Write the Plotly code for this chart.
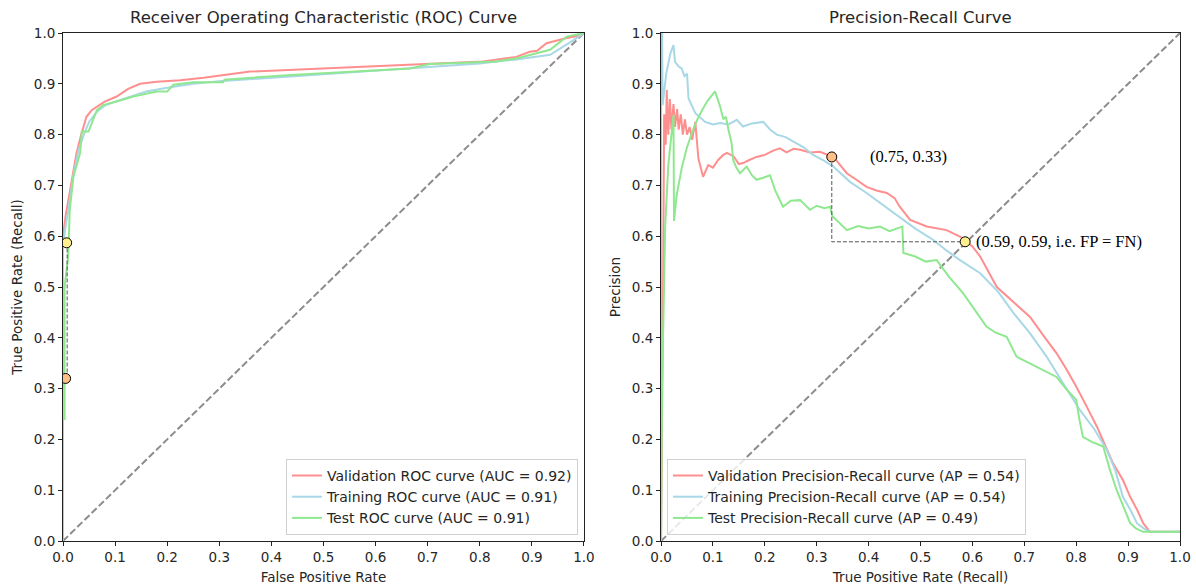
import plotly.graph_objects as go

# ---------------- ROC data ----------------
roc_val_fpr = [0, 0, 0.005, 0.013, 0.02, 0.026, 0.035, 0.045, 0.055, 0.065, 0.08, 0.103, 0.125, 0.148, 0.18, 0.225,
               0.27, 0.359, 0.45, 0.576, 0.666, 0.72, 0.806, 0.87, 0.896, 0.91, 0.928, 0.967, 0.992, 1.0]
roc_val_tpr = [0, 0.6, 0.64, 0.685, 0.73, 0.764, 0.80, 0.835, 0.848, 0.855, 0.865, 0.875, 0.89, 0.90, 0.904, 0.907,
               0.912, 0.924, 0.928, 0.934, 0.937, 0.94, 0.944, 0.953, 0.963, 0.965, 0.98, 0.99, 0.995, 1.0]

roc_trn_fpr = [0, 0, 0.005, 0.01, 0.02, 0.03, 0.04, 0.05, 0.065, 0.08, 0.1, 0.13, 0.16, 0.2, 0.25, 0.3, 0.4, 0.5,
               0.6, 0.7, 0.8, 0.87, 0.935, 0.98, 1.0]
roc_trn_tpr = [0, 0.58, 0.62, 0.65, 0.72, 0.77, 0.80, 0.825, 0.845, 0.857, 0.865, 0.875, 0.885, 0.892, 0.9, 0.905,
               0.912, 0.918, 0.925, 0.932, 0.94, 0.948, 0.957, 0.986, 1.0]

roc_tst_fpr = [0, 0, 0.003, 0.003, 0.01, 0.013, 0.02, 0.033, 0.036, 0.049, 0.065, 0.077, 0.103, 0.135, 0.18, 0.2,
               0.212, 0.25, 0.307, 0.31, 0.43, 0.55, 0.666, 0.704, 0.806, 0.832, 0.87, 0.935, 0.955, 0.967, 1.0]
roc_tst_tpr = [0, 0.24, 0.24, 0.5, 0.56, 0.652, 0.717, 0.764, 0.806, 0.806, 0.848, 0.858, 0.865, 0.875, 0.885, 0.885,
               0.898, 0.903, 0.903, 0.908, 0.917, 0.924, 0.93, 0.939, 0.944, 0.944, 0.95, 0.967, 0.983, 0.993, 1.0]

# ---------------- Precision-Recall data ----------------
pr_val_rec = [0, 0, 0.004, 0.006, 0.009, 0.011, 0.014, 0.017, 0.02, 0.024, 0.027, 0.031, 0.034, 0.038, 0.042,
              0.046, 0.05, 0.055, 0.06, 0.066, 0.072, 0.081, 0.091, 0.1, 0.11, 0.12, 0.127, 0.14, 0.15, 0.158, 0.17,
              0.184, 0.2, 0.215, 0.229, 0.242, 0.255, 0.268, 0.287, 0.306, 0.332, 0.345, 0.358, 0.375, 0.396, 0.415,
              0.435, 0.45, 0.46, 0.48, 0.512, 0.55, 0.576, 0.6, 0.615, 0.647, 0.68, 0.711, 0.74, 0.762, 0.78, 0.80,
              0.82, 0.84, 0.855, 0.871, 0.89, 0.904, 0.918, 0.929, 0.942, 0.96, 1.0]
pr_val_prec = [1.0, 0.0, 0.5, 0.84, 0.78, 0.888, 0.80, 0.87, 0.81, 0.86, 0.815, 0.85, 0.81, 0.84, 0.80,
               0.83, 0.80, 0.815, 0.79, 0.825, 0.753, 0.717, 0.74, 0.735, 0.75, 0.76, 0.764, 0.757, 0.742, 0.744, 0.75,
               0.756, 0.76, 0.768, 0.773, 0.765, 0.772, 0.77, 0.765, 0.766, 0.756, 0.74, 0.724, 0.712, 0.697, 0.69,
               0.685, 0.675, 0.658, 0.632, 0.619, 0.612, 0.599, 0.58, 0.56, 0.50, 0.47, 0.441, 0.40, 0.37, 0.34, 0.304,
               0.265, 0.225, 0.19, 0.153, 0.12, 0.087, 0.06, 0.035, 0.018, 0.018, 0.018]

pr_trn_rec = [0, 0.002, 0.003, 0.01, 0.018, 0.024, 0.027, 0.034, 0.04, 0.045, 0.05, 0.053, 0.066, 0.085, 0.1,
              0.114, 0.13, 0.146, 0.158, 0.175, 0.197, 0.21, 0.223, 0.24, 0.255, 0.275, 0.293, 0.312, 0.332, 0.348,
              0.364, 0.396, 0.43, 0.46, 0.49, 0.524, 0.55, 0.576, 0.615, 0.65, 0.679, 0.71, 0.743, 0.775, 0.807,
              0.835, 0.859, 0.875, 0.89, 0.905, 0.917, 0.93, 0.942, 0.96, 1.0]
pr_trn_prec = [1.0, 1.0, 0.858, 0.92, 0.96, 0.976, 0.943, 0.934, 0.93, 0.915, 0.92, 0.871, 0.842, 0.825, 0.82,
               0.823, 0.82, 0.829, 0.816, 0.822, 0.825, 0.81, 0.80, 0.795, 0.786, 0.775, 0.76, 0.75, 0.737, 0.722,
               0.707, 0.685, 0.66, 0.638, 0.615, 0.593, 0.572, 0.553, 0.527, 0.49, 0.449, 0.41, 0.363, 0.31, 0.258,
               0.22, 0.179, 0.14, 0.087, 0.06, 0.035, 0.025, 0.018, 0.018, 0.018]

pr_tst_rec = [0, 0, 0.002, 0.005, 0.008, 0.014, 0.024, 0.025, 0.03, 0.04, 0.05, 0.06, 0.07, 0.08, 0.09, 0.104,
              0.114, 0.12, 0.125, 0.13, 0.136, 0.139, 0.145, 0.152, 0.165, 0.175, 0.184, 0.197, 0.21, 0.22, 0.235,
              0.25, 0.268, 0.287, 0.3, 0.315, 0.326, 0.33, 0.345, 0.358, 0.38, 0.4, 0.422, 0.44, 0.465, 0.467, 0.49,
              0.51, 0.531, 0.555, 0.582, 0.605, 0.627, 0.645, 0.666, 0.685, 0.71, 0.736, 0.762, 0.78, 0.80, 0.806,
              0.813, 0.83, 0.852, 0.865, 0.878, 0.89, 0.904, 0.915, 0.929, 0.95, 1.0]
pr_tst_prec = [1.0, 0.0, 0.3, 0.5, 0.62, 0.74, 0.839, 0.63, 0.68, 0.735, 0.775, 0.805, 0.83, 0.85, 0.867, 0.885,
               0.855, 0.83, 0.835, 0.809, 0.783, 0.75, 0.735, 0.724, 0.737, 0.72, 0.711, 0.715, 0.72, 0.69, 0.658,
               0.67, 0.671, 0.652, 0.66, 0.655, 0.658, 0.64, 0.625, 0.612, 0.62, 0.615, 0.619, 0.61, 0.619, 0.567,
               0.56, 0.55, 0.553, 0.52, 0.488, 0.455, 0.422, 0.41, 0.402, 0.363, 0.35, 0.337, 0.323, 0.30, 0.278,
               0.24, 0.205, 0.195, 0.186, 0.14, 0.10, 0.07, 0.035, 0.025, 0.018, 0.018, 0.018]

roc_labels = ["Validation ROC curve (AUC = 0.92)", "Training ROC curve (AUC = 0.91)", "Test ROC curve (AUC = 0.91)"]
pr_labels = ["Validation Precision-Recall curve (AP = 0.54)", "Training Precision-Recall curve (AP = 0.54)",
             "Test Precision-Recall curve (AP = 0.49)"]

# threshold markers
roc_pts_x = [0.005, 0.007]
roc_pts_y = [0.32, 0.587]
pr_pts_x = [0.329, 0.586]
pr_pts_y = [0.756, 0.589]
pr_pt_texts = ["(0.75, 0.33)", "(0.59, 0.59, i.e. FP = FN)"]

RED = "#ff8f8f"
BLUE = "#a8d8e6"
GREEN = "#8fe88f"
colors = [RED, BLUE, GREEN]
pt_colors = ["#ffbf87", "#fff08f"]

fig = go.Figure()

roc_series = [(roc_val_fpr, roc_val_tpr), (roc_trn_fpr, roc_trn_tpr), (roc_tst_fpr, roc_tst_tpr)]
pr_series = [(pr_val_rec, pr_val_prec), (pr_trn_rec, pr_trn_prec), (pr_tst_rec, pr_tst_prec)]

# diagonals
for xa, ya in [("x", "y"), ("x2", "y2")]:
    fig.add_trace(go.Scatter(x=[0, 1], y=[0, 1], mode="lines", xaxis=xa, yaxis=ya, showlegend=False,
                             line=dict(color="#8c8c8c", width=2, dash="7px,3px"), hoverinfo="skip"))

for (xs, ys), lab, c in zip(roc_series, roc_labels, colors):
    fig.add_trace(go.Scatter(x=xs, y=ys, mode="lines", name=lab, xaxis="x", yaxis="y",
                             line=dict(color=c, width=2), legend="legend"))
for (xs, ys), lab, c in zip(pr_series, pr_labels, colors):
    fig.add_trace(go.Scatter(x=xs, y=ys, mode="lines", name=lab, xaxis="x2", yaxis="y2",
                             line=dict(color=c, width=2), legend="legend2"))

# dashed helper lines
fig.add_trace(go.Scatter(x=[0.008, 0.008], y=[roc_pts_y[0], roc_pts_y[1]], mode="lines", xaxis="x", yaxis="y",
                         showlegend=False, line=dict(color="#555555", width=1, dash="4px,2px")))
fig.add_trace(go.Scatter(x=[pr_pts_x[0], pr_pts_x[0], pr_pts_x[1]], y=[pr_pts_y[0], pr_pts_y[1], pr_pts_y[1]],
                         mode="lines", xaxis="x2", yaxis="y2", showlegend=False,
                         line=dict(color="#555555", width=1, dash="4px,2px")))

# markers
fig.add_trace(go.Scatter(x=roc_pts_x, y=roc_pts_y, mode="markers", xaxis="x", yaxis="y", showlegend=False,
                         marker=dict(size=10, color=pt_colors, line=dict(color="black", width=1))))
fig.add_trace(go.Scatter(x=pr_pts_x, y=pr_pts_y, mode="markers", xaxis="x2", yaxis="y2", showlegend=False,
                         marker=dict(size=10, color=pt_colors, line=dict(color="black", width=1))))

ticks = [i / 10 for i in range(11)]
axis_common = dict(range=[0, 1], tickvals=ticks, ticktext=[f"{t:.1f}" for t in ticks], showgrid=False,
                   zeroline=False, showline=True, linecolor="#222", linewidth=1, mirror=True, ticks="outside",
                   ticklen=4, tickcolor="#222", tickfont=dict(family="DejaVu Sans", size=13.5, color="#262626"),
                   layer="below traces", automargin=False)
title_font = dict(family="DejaVu Sans", size=13.5, color="#262626")
legend_font = dict(family="DejaVu Sans", size=14, color="#262626")

fig.update_layout(
    width=1196, height=586,
    margin=dict(l=63, r=16, t=33, b=45),
    paper_bgcolor="white", plot_bgcolor="white",
    xaxis=dict(domain=[0, 0.4664], anchor="y", title=dict(text="False Positive Rate", font=title_font, standoff=8),
               **axis_common),
    yaxis=dict(domain=[0, 1], anchor="x",
               title=dict(text="True Positive Rate (Recall)", font=title_font, standoff=8), **axis_common),
    xaxis2=dict(domain=[0.5354, 1], anchor="y2",
                title=dict(text="True Positive Rate (Recall)", font=title_font, standoff=8), **axis_common),
    yaxis2=dict(domain=[0, 1], anchor="x2", title=dict(text="Precision", font=title_font, standoff=8),
                **axis_common),
    legend=dict(x=0.461, y=0.012, xanchor="right", yanchor="bottom", bgcolor="rgba(255,255,255,0.8)",
                bordercolor="#d0d0d0", borderwidth=1, font=legend_font, tracegroupgap=0),
    legend2=dict(x=0.5407, y=0.012, xanchor="left", yanchor="bottom", bgcolor="rgba(255,255,255,0.8)",
                 bordercolor="#d0d0d0", borderwidth=1, font=legend_font, tracegroupgap=0),
    showlegend=True,
)

# subplot titles
fig.add_annotation(text="Receiver Operating Characteristic (ROC) Curve", xref="x domain", yref="y domain",
                   x=0.5, y=1, yshift=16, yanchor="middle", showarrow=False,
                   font=dict(family="DejaVu Sans", size=16.5, color="#262626"))
fig.add_annotation(text="Precision-Recall Curve", xref="x2 domain", yref="y2 domain", x=0.5, y=1, yshift=16,
                   yanchor="middle", showarrow=False, font=dict(family="DejaVu Sans", size=16.5, color="#262626"))

# point labels
fig.add_annotation(text=pr_pt_texts[0], xref="x2", yref="y2", x=0.399, y=pr_pts_y[0], xanchor="left",
                   showarrow=False, font=dict(family="Liberation Serif", size=16.5, color="black"))
fig.add_annotation(text=pr_pt_texts[1], xref="x2", yref="y2", x=0.604, y=pr_pts_y[1], xanchor="left",
                   showarrow=False, font=dict(family="Liberation Serif", size=16.5, color="black"))

fig.write_html("out.html")
